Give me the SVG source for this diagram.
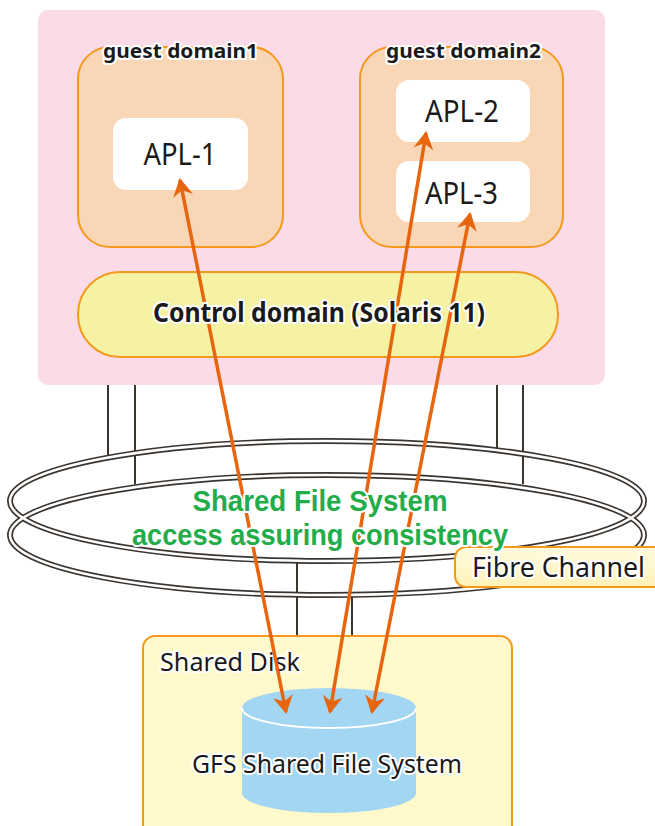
<svg xmlns="http://www.w3.org/2000/svg" width="655" height="826" viewBox="0 0 655 826">
<style>
.t{font-family:"Noto Sans","Open Sans","Liberation Sans",sans-serif;fill:#1a1a1a;paint-order:stroke;stroke:#fff;stroke-width:4;stroke-linejoin:round}
.b{font-weight:700}
.g{font-family:"Liberation Sans","Noto Sans",sans-serif;fill:#22ad4a;font-weight:700}
.dom{fill:#f9d6b5;stroke:#f39a1e;stroke-width:2}
.apl{fill:#fff}
.v{stroke:#3b3530;stroke-width:2;fill:none}
.ro{fill:none;stroke:#3b3530;stroke-width:6}
.ri{fill:none;stroke:#fff;stroke-width:2.6}
.arr{stroke:#e8650f;stroke-width:3.5;fill:none;marker-start:url(#ah);marker-end:url(#ah)}
</style>
<defs>
<marker id="ah" viewBox="-18 -11 22 22" refX="0" refY="0" markerWidth="22" markerHeight="22" markerUnits="userSpaceOnUse" orient="auto-start-reverse">
<path d="M2,0 L-16,-10 L-10.5,0 L-16,10 Z" fill="#e8650f"/>
</marker>
<linearGradient id="fc" x1="0" y1="0" x2="0" y2="1">
<stop offset="0" stop-color="#fffbe0"/><stop offset="1" stop-color="#fff2b8"/>
</linearGradient>
</defs>
<g id="server">
<rect x="38" y="10" width="567" height="375" rx="10" fill="#fadbe7"/>
</g>
<g id="guest1">
<rect class="dom" x="78" y="47" width="205" height="200" rx="32"/>
<rect class="apl" x="113" y="118" width="135" height="72" rx="13"/>
<text class="t b" x="180.5" y="58" font-size="20" text-anchor="middle" textLength="155" lengthAdjust="spacingAndGlyphs">guest domain1</text>
<text class="t" x="180" y="165" font-size="30" text-anchor="middle" textLength="73" lengthAdjust="spacingAndGlyphs" stroke="none">APL-1</text>
</g>
<g id="guest2">
<rect class="dom" x="360" y="47" width="203" height="200" rx="32"/>
<rect class="apl" x="396" y="80" width="134" height="62" rx="13"/>
<rect class="apl" x="396" y="161" width="134" height="61" rx="13"/>
<text class="t b" x="463.5" y="58" font-size="20" text-anchor="middle" textLength="155" lengthAdjust="spacingAndGlyphs">guest domain2</text>
<text class="t" x="462" y="122" font-size="30" text-anchor="middle" textLength="74" lengthAdjust="spacingAndGlyphs" stroke="none">APL-2</text>
<text class="t" x="461.5" y="204" font-size="30" text-anchor="middle" textLength="73" lengthAdjust="spacingAndGlyphs" stroke="none">APL-3</text>
</g>
<g id="control">
<rect x="78" y="272" width="480" height="85" rx="42" fill="#f5f2a3" stroke="#f39a1e" stroke-width="2"/>
</g>
<g id="fibre-channel">
<line class="v" x1="108" y1="385" x2="108" y2="456"/>
<line class="v" x1="135" y1="385" x2="135" y2="484"/>
<line class="v" x1="497" y1="385" x2="497" y2="449"/>
<line class="v" x1="523" y1="385" x2="523" y2="484"/>
<line class="v" x1="297" y1="562" x2="297" y2="637"/>
<line class="v" x1="352" y1="594" x2="352" y2="637"/>
<ellipse class="ro" cx="327" cy="501" rx="317" ry="60"/>
<ellipse class="ro" cx="327" cy="535" rx="317" ry="60"/>
<ellipse class="ri" cx="327" cy="501" rx="317" ry="60"/>
<ellipse class="ri" cx="327" cy="535" rx="317" ry="60"/>
<rect x="455" y="547" width="215" height="40" rx="11" fill="url(#fc)" stroke="#f39a1e" stroke-width="2"/>
<text class="t" x="472" y="577" font-size="27" textLength="173" lengthAdjust="spacingAndGlyphs" stroke="none">Fibre Channel</text>
</g>
<g id="shared-disk">
<rect x="143" y="636" width="369" height="210" rx="12" fill="#fff9cc" stroke="#f39a1e" stroke-width="2"/>
<text class="t" x="160" y="671" font-size="26" textLength="140" lengthAdjust="spacingAndGlyphs" stroke="none">Shared Disk</text>
<path d="M242,708 L242,793 A87,20 0 0 0 416,793 L416,708 A87,20 0 0 0 242,708 Z" fill="#a2d6f3"/>
<path d="M242,708 A87,20 0 0 0 416,708" fill="none" stroke="#fff" stroke-width="2"/>
</g>
<g id="connectors">
<line class="arr" x1="180" y1="180" x2="286" y2="712"/>
<line class="arr" x1="426" y1="133" x2="330" y2="712"/>
<line class="arr" x1="470" y1="214" x2="372" y2="712"/>
</g>
<g id="labels">
<text class="t b" x="319" y="322" font-size="26" text-anchor="middle" textLength="332" lengthAdjust="spacingAndGlyphs">Control domain (Solaris 11)</text>
<text class="t g" x="320" y="511" font-size="29" text-anchor="middle" textLength="255" lengthAdjust="spacingAndGlyphs">Shared File System</text>
<text class="t g" x="320" y="545" font-size="29" text-anchor="middle" textLength="376" lengthAdjust="spacingAndGlyphs">access assuring consistency</text>
<text class="t" x="327" y="773" font-size="25" text-anchor="middle" textLength="270" lengthAdjust="spacingAndGlyphs">GFS Shared File System</text>
</g>
</svg>
